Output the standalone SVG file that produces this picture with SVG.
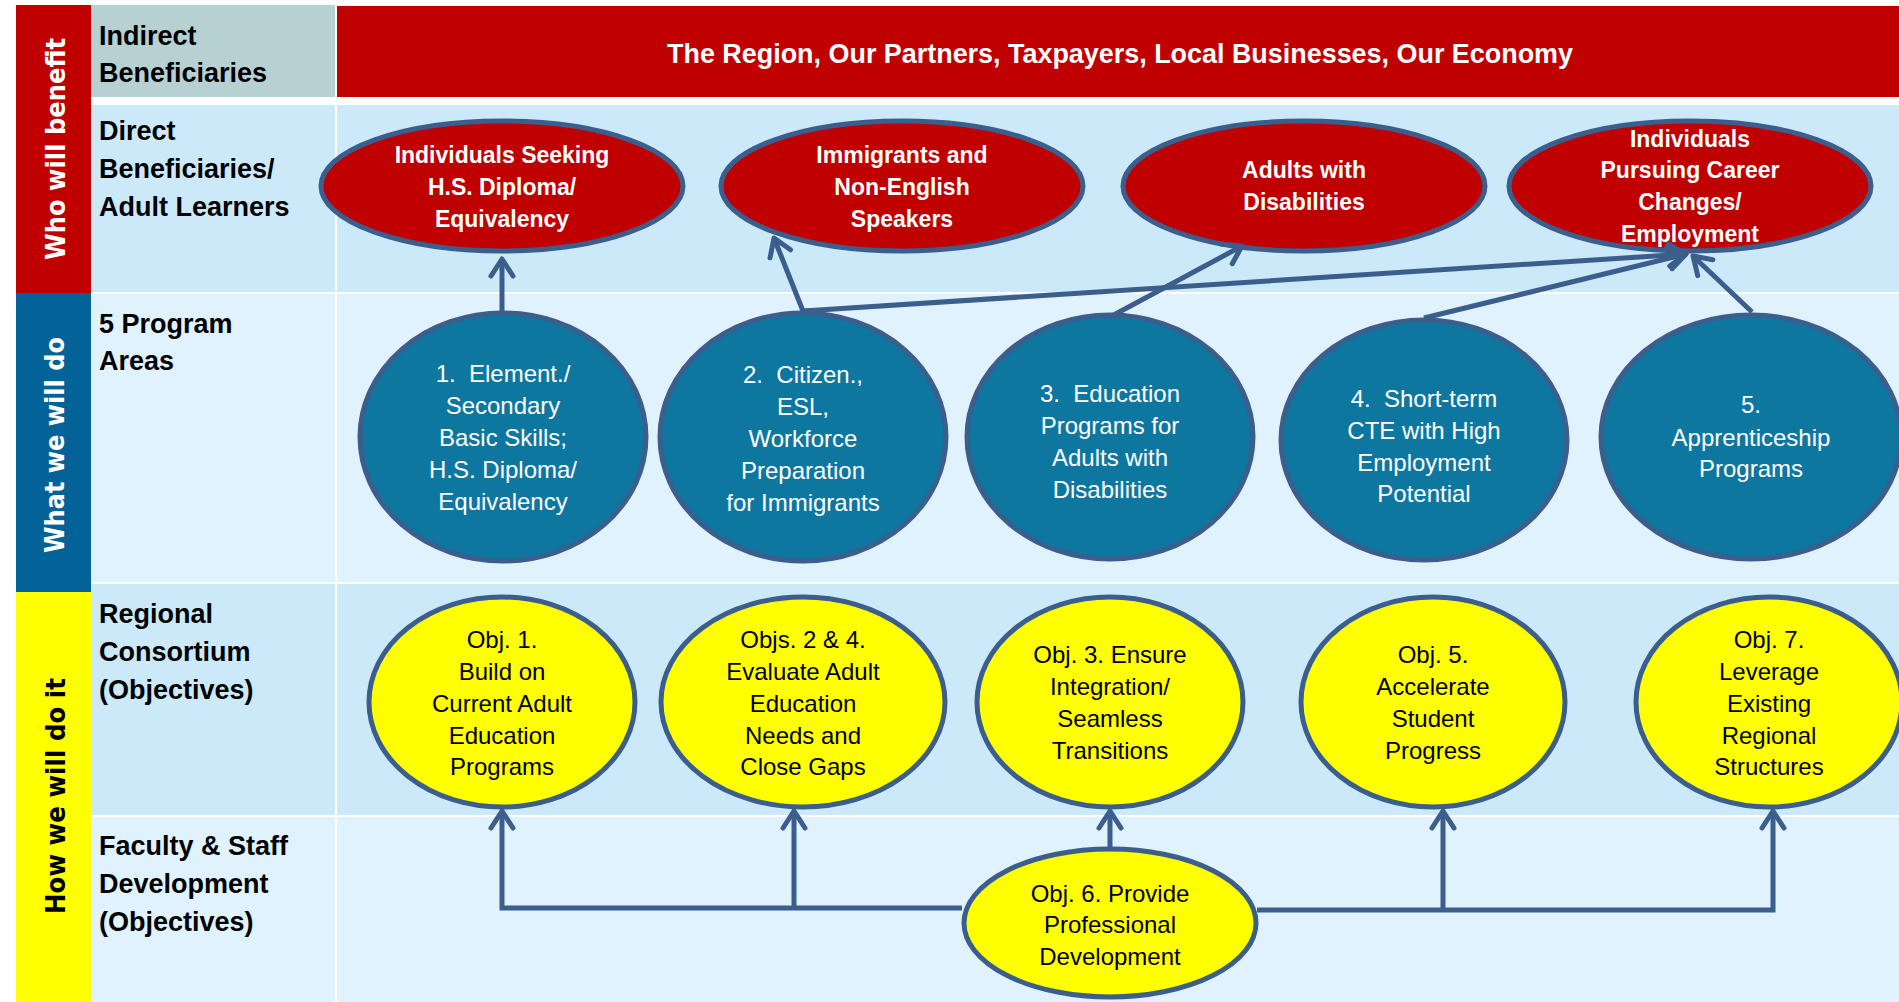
<svg xmlns="http://www.w3.org/2000/svg" width="1899" height="1002" viewBox="0 0 1899 1002">
<style>
text{font-family:"Liberation Sans",Arial,sans-serif}
.lbl{font-weight:bold;font-size:27px;fill:#000}
.side{font-family:"DejaVu Sans",Verdana,sans-serif;font-weight:bold;font-size:27px;text-anchor:middle}
.hdr{font-weight:bold;font-size:27px;fill:#fff;text-anchor:middle}
.rt{font-weight:bold;font-size:23px;fill:#fff;text-anchor:middle}
.bt{font-size:24px;fill:#fff;text-anchor:middle}
.yt{font-size:24px;fill:#000;text-anchor:middle}
.red{fill:#C00000;stroke:#3B5E8C;stroke-width:5}
.blue{fill:#0E77A0;stroke:#3B5E8C;stroke-width:5}
.yel{fill:#FFFF00;stroke:#3B5E8C;stroke-width:5}
.con{fill:none;stroke:#3B5E8C;stroke-width:5}
.arr{marker-end:url(#ah)}
</style>
<defs>
<marker id="ah" markerUnits="userSpaceOnUse" markerWidth="40" markerHeight="40" viewBox="-20 -20 40 40" refX="0" refY="0" orient="auto" overflow="visible">
<path d="M-17,-11 L0,0 L-17,11" fill="none" stroke="#3B5E8C" stroke-width="5" stroke-linecap="round" stroke-linejoin="round"/>
</marker>
</defs>
<rect width="1899" height="1002" fill="#fff"/>
<g id="bands">
<rect x="16" y="5" width="75" height="288" fill="#C00000"/>
<rect x="16" y="293" width="75" height="299" fill="#036399"/>
<rect x="16" y="592" width="75" height="410" fill="#FFFF00"/>
<text class="side" fill="#fff" transform="translate(65,149) rotate(-90)" textLength="222" lengthAdjust="spacingAndGlyphs">Who will benefit</text>
<text class="side" fill="#fff" transform="translate(64,445) rotate(-90)" textLength="216" lengthAdjust="spacingAndGlyphs">What we will do</text>
<text class="side" fill="#000" transform="translate(65,796) rotate(-90)" textLength="236" lengthAdjust="spacingAndGlyphs">How we will do it</text>
</g>
<g id="rows">
<rect x="91" y="5" width="244" height="92" fill="#B7D0D2"/>
<rect x="337" y="6" width="1562" height="91" fill="#C00000"/>
<rect x="91" y="105" width="244" height="187" fill="#CCE9FA"/>
<rect x="337" y="105" width="1562" height="187" fill="#CCE9FA"/>
<rect x="91" y="294" width="244" height="288" fill="#E0F2FD"/>
<rect x="337" y="294" width="1562" height="288" fill="#E0F2FD"/>
<rect x="91" y="584" width="244" height="231" fill="#CCE9FA"/>
<rect x="337" y="584" width="1562" height="231" fill="#CCE9FA"/>
<rect x="91" y="817" width="244" height="185" fill="#E0F2FD"/>
<rect x="337" y="817" width="1562" height="185" fill="#E0F2FD"/>
</g>
<g id="labels">
<text class="lbl" x="99" y="45">Indirect</text>
<text class="lbl" x="99" y="82">Beneficiaries</text>
<text class="lbl" x="99" y="140">Direct</text>
<text class="lbl" x="99" y="178">Beneficiaries/</text>
<text class="lbl" x="99" y="216">Adult Learners</text>
<text class="lbl" x="99" y="333">5 Program</text>
<text class="lbl" x="99" y="370">Areas</text>
<text class="lbl" x="99" y="623">Regional</text>
<text class="lbl" x="99" y="661">Consortium</text>
<text class="lbl" x="99" y="699">(Objectives)</text>
<text class="lbl" x="99" y="855">Faculty &amp; Staff</text>
<text class="lbl" x="99" y="893">Development</text>
<text class="lbl" x="99" y="931">(Objectives)</text>
</g>
<g id="indirect">
<text class="hdr" x="1120" y="63" textLength="906" lengthAdjust="spacingAndGlyphs">The Region, Our Partners, Taxpayers, Local Businesses, Our Economy</text>
</g>
<g id="d1"><ellipse class="red" cx="502" cy="186" rx="181" ry="65"/>
<text class="rt" x="502" y="163">Individuals Seeking</text><text class="rt" x="502" y="195">H.S. Diploma/</text><text class="rt" x="502" y="227">Equivalency</text></g>
<g id="d2"><ellipse class="red" cx="902" cy="186" rx="181" ry="65"/>
<text class="rt" x="902" y="163">Immigrants and</text><text class="rt" x="902" y="195">Non-English</text><text class="rt" x="902" y="227">Speakers</text></g>
<g id="d3"><ellipse class="red" cx="1304" cy="186" rx="181" ry="65"/>
<text class="rt" x="1304" y="178">Adults with</text><text class="rt" x="1304" y="210">Disabilities</text></g>
<g id="d4"><ellipse class="red" cx="1690" cy="186" rx="181" ry="65"/>
<text class="rt" x="1690" y="147">Individuals</text><text class="rt" x="1690" y="178">Pursuing Career</text><text class="rt" x="1690" y="210">Changes/</text><text class="rt" x="1690" y="242">Employment</text></g>
<g id="p1"><ellipse class="blue" cx="503" cy="437" rx="143" ry="124"/>
<text class="bt" x="503" y="382">1.&#160; Element./</text><text class="bt" x="503" y="414">Secondary</text><text class="bt" x="503" y="446">Basic Skills;</text><text class="bt" x="503" y="478">H.S. Diploma/</text><text class="bt" x="503" y="510">Equivalency</text></g>
<g id="p2"><ellipse class="blue" cx="803" cy="437" rx="143" ry="124"/>
<text class="bt" x="803" y="383">2.&#160; Citizen.,</text><text class="bt" x="803" y="415">ESL,</text><text class="bt" x="803" y="447">Workforce</text><text class="bt" x="803" y="479">Preparation</text><text class="bt" x="803" y="511">for Immigrants</text></g>
<g id="p3"><ellipse class="blue" cx="1110" cy="437" rx="143" ry="122"/>
<text class="bt" x="1110" y="402">3.&#160; Education</text><text class="bt" x="1110" y="434">Programs for</text><text class="bt" x="1110" y="466">Adults with</text><text class="bt" x="1110" y="498">Disabilities</text></g>
<g id="p4"><ellipse class="blue" cx="1424" cy="440" rx="143" ry="120"/>
<text class="bt" x="1424" y="407">4.&#160; Short-term</text><text class="bt" x="1424" y="439">CTE with High</text><text class="bt" x="1424" y="471">Employment</text><text class="bt" x="1424" y="502">Potential</text></g>
<g id="p5"><ellipse class="blue" cx="1751" cy="437" rx="150" ry="122"/>
<text class="bt" x="1751" y="413">5.</text><text class="bt" x="1751" y="446">Apprenticeship</text><text class="bt" x="1751" y="477">Programs</text></g>
<g id="o1"><ellipse class="yel" cx="502" cy="702" rx="133" ry="105"/>
<text class="yt" x="502" y="648">Obj. 1.</text><text class="yt" x="502" y="680">Build on</text><text class="yt" x="502" y="712">Current Adult</text><text class="yt" x="502" y="744">Education</text><text class="yt" x="502" y="775">Programs</text></g>
<g id="o2"><ellipse class="yel" cx="803" cy="702" rx="142" ry="105"/>
<text class="yt" x="803" y="648">Objs. 2 &amp; 4.</text><text class="yt" x="803" y="680">Evaluate Adult</text><text class="yt" x="803" y="712">Education</text><text class="yt" x="803" y="744">Needs and</text><text class="yt" x="803" y="775">Close Gaps</text></g>
<g id="o3"><ellipse class="yel" cx="1110" cy="702" rx="133" ry="105"/>
<text class="yt" x="1110" y="663">Obj. 3. Ensure</text><text class="yt" x="1110" y="695">Integration/</text><text class="yt" x="1110" y="727">Seamless</text><text class="yt" x="1110" y="759">Transitions</text></g>
<g id="o5"><ellipse class="yel" cx="1433" cy="702" rx="132" ry="105"/>
<text class="yt" x="1433" y="663">Obj. 5.</text><text class="yt" x="1433" y="695">Accelerate</text><text class="yt" x="1433" y="727">Student</text><text class="yt" x="1433" y="759">Progress</text></g>
<g id="o7"><ellipse class="yel" cx="1769" cy="702" rx="133" ry="105"/>
<text class="yt" x="1769" y="648">Obj. 7.</text><text class="yt" x="1769" y="680">Leverage</text><text class="yt" x="1769" y="712">Existing</text><text class="yt" x="1769" y="744">Regional</text><text class="yt" x="1769" y="775">Structures</text></g>
<g id="o6"><ellipse class="yel" cx="1110" cy="923" rx="146" ry="74"/>
<text class="yt" x="1110" y="902">Obj. 6. Provide</text><text class="yt" x="1110" y="933">Professional</text><text class="yt" x="1110" y="965">Development</text></g>
<g id="connectors">
<path class="con arr" d="M502,311 L502,259"/>
<path class="con arr" d="M803,311 L774,238"/>
<path class="con arr" d="M803,311 L1686,254"/>
<path class="con arr" d="M1110,317 L1242,246"/>
<path class="con arr" d="M1424,318 L1686,254"/>
<path class="con arr" d="M1752,312 L1693,256"/>
<path class="con arr" d="M962,908 L502,908 L502,811"/>
<path class="con arr" d="M794,908 L794,811"/>
<path class="con arr" d="M1110,848 L1110,811"/>
<path class="con arr" d="M1257,910 L1773,910 L1773,811"/>
<path class="con arr" d="M1443,910 L1443,811"/>
</g>
</svg>
